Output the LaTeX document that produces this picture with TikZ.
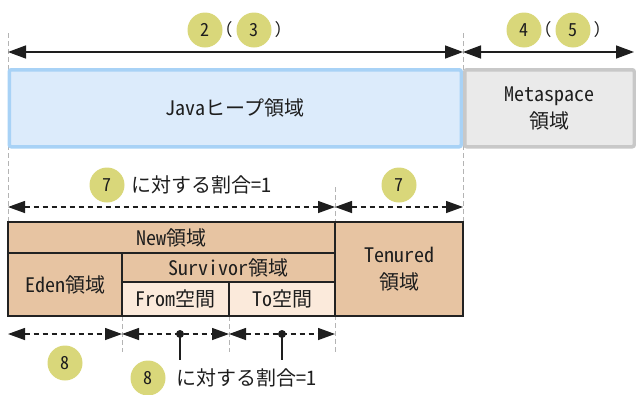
\documentclass[tikz,border=0pt]{standalone}
\usepackage{fontspec}
\setmainfont{Noto Sans CJK JP}[RawFeature=+hwid]
\usetikzlibrary{arrows.meta}
\definecolor{javafill}{HTML}{DCEBFB}
\definecolor{javaline}{HTML}{A8D2F6}
\definecolor{metafill}{HTML}{EAEAEA}
\definecolor{metaline}{HTML}{C8C8C8}
\definecolor{tanfill}{HTML}{E7C4A2}
\definecolor{lightfill}{HTML}{FBEADB}
\definecolor{boxline}{HTML}{222222}
\definecolor{badge}{HTML}{D9D77A}
\definecolor{guide}{HTML}{B4B4B4}
\definecolor{ink}{HTML}{1E1E1E}
\tikzset{
  txt/.style={font=\fontsize{20}{27}\selectfont, text=ink, inner sep=0pt},
  badgenode/.style={circle, fill=badge, inner sep=0pt, minimum size=35pt, font=\fontsize{18}{18}\selectfont, text=ink},
  paren/.style={font=\fontsize{16}{16}\selectfont, text=ink, inner sep=0pt},
  bigbox/.style={txt, anchor=north west, outer sep=0pt, line width=3.5pt, rounded corners=2pt, align=center},
  cellbox/.style={txt, anchor=north west, outer sep=0pt, draw=boxline, line width=1.3pt, align=center},
  guideline/.style={draw=guide, line width=1pt, dash pattern=on 5pt off 3pt},
  solidarrow/.style={line width=1.5pt, draw=ink, {Triangle[length=18pt,width=13pt]}-{Triangle[length=18pt,width=13pt]}},
  dasharrow/.style={line width=1.3pt, draw=ink, dash pattern=on 5pt off 4pt, {Triangle[length=17pt,width=12pt]}-{Triangle[length=17pt,width=12pt]}},
  stem/.style={line width=1.3pt, draw=ink},
  dotnode/.style={circle, fill=ink, inner sep=0pt, minimum size=8pt},
}
\begin{document}
\begin{tikzpicture}[x=1pt,y=-1pt]
\useasboundingbox (0,0) rectangle (636,394);
% guide lines
\coordinate (g1t) at (8,33);   \coordinate (g1b) at (8,222);
\coordinate (g2t) at (463,33); \coordinate (g2b) at (463,222);
\coordinate (g3t) at (335,187); \coordinate (g3b) at (335,352);
\coordinate (g4t) at (122,316); \coordinate (g4b) at (122,352);
\coordinate (g5t) at (229,316); \coordinate (g5b) at (229,352);
\draw[guideline] (g1t) -- (g1b);
\draw[guideline] (g2t) -- (g2b);
\draw[guideline] (g3t) -- (g3b);
\draw[guideline] (g4t) -- (g4b);
\draw[guideline] (g5t) -- (g5b);
% top boxes
\node[bigbox, fill=javafill, draw=javaline, minimum width=452pt, minimum height=77pt] (java) at (9.25,69.75) {Javaヒープ領域};
\node[bigbox, fill=metafill, draw=metaline, minimum width=169.5pt, minimum height=77pt] (meta) at (464.75,69.75) {Metaspace\\領域};
% top arrows
\coordinate (t1) at (8,52); \coordinate (t2) at (463,52); \coordinate (t3) at (634,52);
\draw[solidarrow] (t1) -- (t2);
\draw[solidarrow] (t2) -- (t3);
\node[badgenode] (b2) at (205,30) {2};
\node[paren] (p1) at (229,30) {(};
\node[badgenode] (b3) at (254,30) {3};
\node[paren] (p2) at (278,30) {)};
\node[badgenode] (b4) at (524,30) {4};
\node[paren] (p3) at (548,30) {(};
\node[badgenode] (b5) at (573,30) {5};
\node[paren] (p4) at (597,30) {)};
% middle arrows
\coordinate (m1) at (8,207); \coordinate (m2) at (335,207); \coordinate (m3) at (463,207);
\draw[dasharrow] (m1) -- (m2);
\draw[dasharrow] (m2) -- (m3);
\node[badgenode] (b7a) at (107,185) {7};
\node[txt, anchor=west] (r7) at (131,185) {に対する割合=1};
\node[badgenode] (b7b) at (399,185) {7};
% lower boxes
\node[cellbox, fill=tanfill, minimum width=327pt, minimum height=31pt] (new) at (8,222) {New領域};
\node[cellbox, fill=tanfill, minimum width=114pt, minimum height=63pt] (eden) at (8,253) {Eden領域};
\node[cellbox, fill=tanfill, minimum width=213pt, minimum height=29pt] (surv) at (122,253) {Survivor領域};
\node[cellbox, fill=lightfill, minimum width=107pt, minimum height=34pt] (from) at (122,282) {From空間};
\node[cellbox, fill=lightfill, minimum width=106pt, minimum height=34pt] (to) at (229,282) {To空間};
\node[cellbox, fill=tanfill, minimum width=128pt, minimum height=94pt] (ten) at (335,222) {Tenured\\領域};
% bottom arrows
\coordinate (l1) at (8,334); \coordinate (l2) at (122,334); \coordinate (l3) at (229,334); \coordinate (l4) at (335,334);
\draw[dasharrow] (l1) -- (l2);
\draw[dasharrow] (l2) -- (l3);
\draw[dasharrow] (l3) -- (l4);
\node[dotnode] (d1) at (180,334) {};
\node[dotnode] (d2) at (282,334) {};
\coordinate (s1) at (180,360); \coordinate (s2) at (282,360);
\draw[stem] (d1.center) -- (s1);
\draw[stem] (d2.center) -- (s2);
\node[badgenode] (b8a) at (65,363) {8};
\node[badgenode] (b8b) at (148,378) {8};
\node[txt, anchor=west] (r8) at (176,378) {に対する割合=1};
\end{tikzpicture}
\end{document}
